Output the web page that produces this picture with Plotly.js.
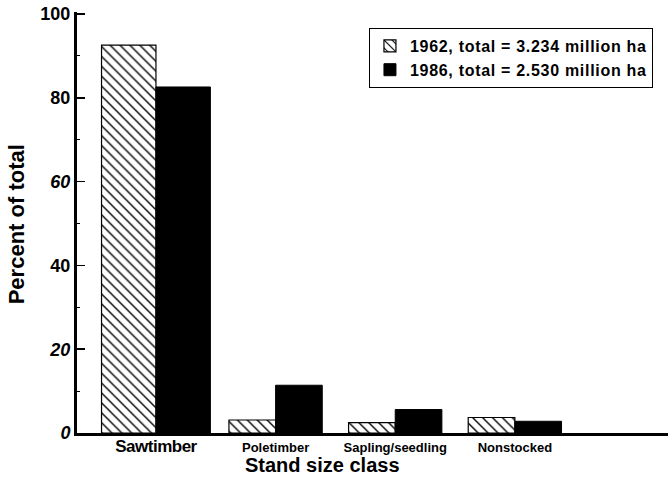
<!DOCTYPE html>
<html><head><meta charset="utf-8">
<script src="https://cdn.plot.ly/plotly-3.0.1.min.js"></script>
<style>body{margin:0;background:#fff}#c{width:670px;height:486px}</style>
</head><body><div id="c"></div>
<script>
const categories = ["Sawtimber", "Poletimber", "Sapling/seedling", "Nonstocked"];
const categoryLabels = ['<span style="font-size:17px;letter-spacing:-0.5px">Sawtimber</span>', 'Poletimber', 'Sapling/seedling', 'Nonstocked'];
const series1962 = [92.6, 3.1, 2.5, 3.7];
const series1986 = [82.6, 11.4, 5.6, 2.8];
const seriesNames = ["1962, total = 3.234 million ha", "1986, total = 2.530 million ha"];
const yTickVals = [0, 20, 40, 60, 80, 100];
const yTickText = ["<i>0</i>", "<i>20</i>", "40", "<i>60</i>", "80", "100"];
const xTitle = "Stand size class";
const yTitle = "Percent of total";

const xIdx = categories.map((c, i) => i);
const w = categories.map((c, i) => i === 0 ? 0.455 : 0.39);
const font = "Liberation Sans, Arial, sans-serif";

const traces = [
  {
    type: "bar", name: '<span style="letter-spacing:0.7px">' + seriesNames[0] + '</span>', x: xIdx, y: series1962,
    width: w, offset: w.map(v => -v),
    marker: {color: "#fff", line: {color: "#000", width: 1.2},
      pattern: {shape: "\\", fgcolor: "#000", bgcolor: "#fff", size: 7, solidity: 0.2}}
  },
  {
    type: "bar", name: '<span style="letter-spacing:0.7px">' + seriesNames[1] + '</span>', x: xIdx, y: series1986,
    width: w, offset: w.map(v => 0),
    marker: {color: "#000", line: {color: "#000", width: 1}}
  }
];

const layout = {
  width: 670, height: 486,
  margin: {l: 77, r: 2, t: 12, b: 53},
  paper_bgcolor: "#fff", plot_bgcolor: "#fff",
  font: {family: font, color: "#000"},
  barmode: "overlay",
  showlegend: true,
  legend: {x: 0.494, y: 0.962, xanchor: "left", yanchor: "top",
    bordercolor: "#000", borderwidth: 1, bgcolor: "#fff",
    font: {size: 16, family: font, weight: "bold"}, tracegroupgap: 0, itemwidth: 30},
  xaxis: {
    range: [-0.66, 4.28], tickvals: xIdx, ticktext: categoryLabels,
    showgrid: false, zeroline: false, showline: true, linecolor: "#000", linewidth: 3,
    ticks: "", tickfont: {size: 13, family: font, weight: "bold"}
  },
  yaxis: {
    range: [0, 100.5], tickvals: yTickVals, ticktext: yTickText,
    showgrid: false, zeroline: false, showline: true, linecolor: "#000", linewidth: 3,
    ticks: "inside", ticklen: 8, tickwidth: 1.5, tickcolor: "#000",
    minor: {dtick: 10, ticks: "inside", ticklen: 3, tickcolor: "#000", tickwidth: 1},
    tickfont: {size: 18, family: font, weight: "bold"}
  },
  annotations: [
    {text: xTitle, xref: "paper", yref: "paper", x: 0.4146, y: -0.076, xanchor: "center", yanchor: "middle",
     showarrow: false, font: {size: 20, family: font, weight: "bold"}},
    {text: yTitle, xref: "paper", yref: "paper", x: -0.103, y: 0.496, xanchor: "center", yanchor: "middle",
     textangle: -90, showarrow: false, font: {size: 22, family: font, weight: "bold"}}
  ]
};

Plotly.newPlot("c", traces, layout, {staticPlot: true, displayModeBar: false});
</script></body></html>
